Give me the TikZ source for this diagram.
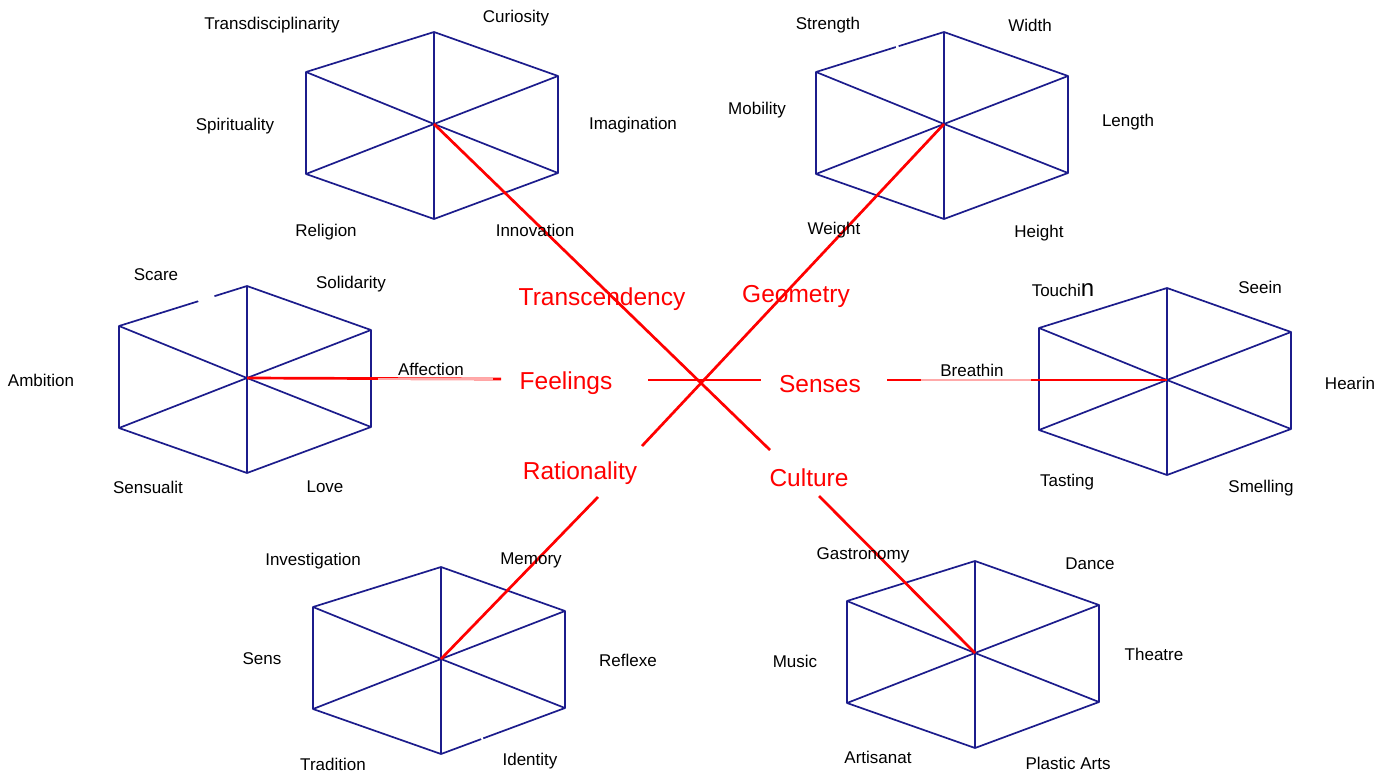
\documentclass[tikz,border=0pt]{standalone}
\usepackage{fontspec}
\setmainfont{Liberation Sans}
\usetikzlibrary{calc}
\definecolor{hexblue}{RGB}{28,28,140}
\definecolor{faintred}{RGB}{255,170,170}

% one hexagonal cell: outline plus six spokes from its centre
\newcommand\hexcell[3]{%
  \coordinate (#1) at (#2,#3);
  \coordinate (#1-t)  at (#2,#3-92);
  \coordinate (#1-ur) at (#2+124,#3-48);
  \coordinate (#1-lr) at (#2+124,#3+49);
  \coordinate (#1-b)  at (#2,#3+95);
  \coordinate (#1-ll) at (#2-128,#3+50);
  \coordinate (#1-ul) at (#2-128,#3-52);
  \draw[edge] (#1-t) -- (#1-ur) -- (#1-lr) -- (#1-b) -- (#1-ll) -- (#1-ul) -- cycle;
  \foreach \v in {t,ur,lr,b,ll,ul} \draw[edge] (#1) -- (#1-\v);
}

\begin{document}
\begin{tikzpicture}[x=1pt,y=-1pt,
  lbl/.style={font=\fontsize{17}{20}\selectfont, text=black, inner sep=0pt, yshift=-2pt},
  cat/.style={font=\fontsize{24.5}{28}\selectfont, text=red, inner sep=0pt, yshift=-2.5pt},
  edge/.style={draw=hexblue, line width=1.7pt, line join=round},
  axis/.style={draw=red, line width=2.7pt},
  faint/.style={draw=faintred, line width=2.7pt},
  gap/.style={draw=white, line width=4pt}]

\useasboundingbox[fill=white] (0,0) rectangle (1391,771);

% the six cells
\hexcell{h1}{434}{124}
\hexcell{h2}{944}{124}
\hexcell{h3}{247}{378}
\hexcell{h4}{1167}{380}
\hexcell{h5}{441}{659}
\hexcell{h6}{975}{653}

% small breaks in a few outlines
\draw[gap] ($(h3-ul)!0.62!(h3-t)$) -- ($(h3-ul)!0.745!(h3-t)$);
\draw[gap] ($(h2-ul)!0.625!(h2-t)$) -- ($(h2-ul)!0.645!(h2-t)$);
\draw[gap] ($(h5-lr)!0.66!(h5-b)$) -- ($(h5-lr)!0.675!(h5-b)$);

% red axes joining the cells
\coordinate (x)   at (703,381);
\coordinate (cuA) at (770,450);
\coordinate (cuB) at (819,496);
\coordinate (raA) at (642,446);
\coordinate (raB) at (598,497);
\coordinate (feA) at (501,379);
\coordinate (feB) at (648,380);
\coordinate (seA) at (761,380);
\coordinate (seB) at (887,380);

\draw[axis] (h1) -- (cuA);
\draw[axis] (cuB) -- (h6);
\draw[axis] (h2) -- (raA);
\draw[axis] (raB) -- (h5);
\draw[axis] (h3) -- (feA);
\draw[axis] (feB) -- (seA);
\draw[axis] (seB) -- (h4);
\draw[faint] (378,379) -- (493,379);
\draw[faint] (921,380) -- (1031,380);

% category labels
\node[cat] (tr) at (602,297) {Transcendency};
\node[cat] (ge) at (796,294) {Geometry};
\node[cat] (fe) at (566,381) {Feelings};
\node[cat] (se) at (820,382) {Senses};
\node[cat] (ra) at (580,471) {Rationality};
\node[cat] (cu) at (809,475) {Culture};

% cell 1
\node[lbl] (l11) at (272,23)  {Transdisciplinarity};
\node[lbl] (l12) at (516,16)  {Curiosity};
\node[lbl] (l13) at (633,123) {Imagination};
\node[lbl] (l14) at (535,228) {Innovation};
\node[lbl] (l15) at (326,230) {Religion};
\node[lbl] (l16) at (235,124) {Spirituality};
% cell 2
\node[lbl] (l21) at (828,23)  {Strength};
\node[lbl] (l22) at (1030,23) {Width};
\node[lbl] (l23) at (1128,120) {Length};
\node[lbl] (l24) at (1039,231) {Height};
\node[lbl] (l25) at (834,228) {Weight};
\node[lbl] (l26) at (757,108) {Mobility};
% cell 3
\node[lbl] (l31) at (156,273) {Scare};
\node[lbl] (l32) at (351,282) {Solidarity};
\node[lbl] (l33) at (431,367) {Affection};
\node[lbl] (l34) at (325,485) {Love};
\node[lbl] (l35) at (148,485) {Sensualit};
\node[lbl] (l36) at (41,378)  {Ambition};
% cell 4
\node[lbl] (l41) at (1063,288) {Touchi{\fontsize{24}{28}\selectfont n}};
\node[lbl] (l42) at (1260,285) {Seein};
\node[lbl] (l43) at (1350,381) {Hearin};
\node[lbl] (l44) at (972,368)  {Breathin};
\node[lbl] (l45) at (1261,486) {Smelling};
\node[lbl] (l46) at (1067,480) {Tasting};
% cell 5
\node[lbl] (l51) at (313,559) {Investigation};
\node[lbl] (l52) at (531,558) {Memory};
\node[lbl] (l53) at (628,658) {Reflexe};
\node[lbl] (l54) at (530,759) {Identity};
\node[lbl] (l55) at (333,762) {Tradition};
\node[lbl] (l56) at (262,657) {Sens};
% cell 6
\node[lbl] (l61) at (863,553)  {Gastronomy};
\node[lbl] (l62) at (1090,562) {Dance};
\node[lbl] (l63) at (1154,652) {Theatre};
\node[lbl] (l64) at (1068,761) {Plastic Arts};
\node[lbl] (l65) at (878,755)  {Artisanat};
\node[lbl] (l66) at (795,659)  {Music};
\end{tikzpicture}
\end{document}
